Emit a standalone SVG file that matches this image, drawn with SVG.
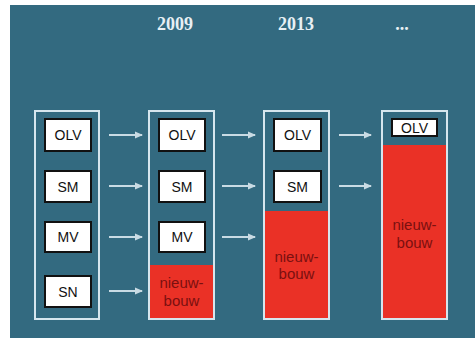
<svg xmlns="http://www.w3.org/2000/svg" width="475" height="341" viewBox="0 0 475 341">
<defs>
<style>
.yr{font-family:"Liberation Serif",serif;font-weight:bold;font-size:18px;fill:#e8f0f4;text-anchor:middle}
.col{fill:none;stroke:#d6e6ee;stroke-width:2}
.box{fill:#ffffff;stroke:#111111;stroke-width:2}
.lbl{font-family:"Liberation Sans",sans-serif;font-size:14px;fill:#111111;text-anchor:middle}
.red{fill:#ea3126}
.nb{font-family:"Liberation Sans",sans-serif;font-size:15px;fill:#7a1010;text-anchor:middle}
.arr{stroke:#c9dbe4;stroke-width:2;fill:none;marker-end:url(#ah)}
</style>
<marker id="ah" markerWidth="8" markerHeight="8" refX="7" refY="4" orient="auto" markerUnits="userSpaceOnUse">
<path d="M0,0.5 L8,4 L0,7.5 Z" fill="#c9dbe4"/>
</marker>
</defs>
<rect x="0" y="0" width="475" height="341" fill="#ffffff"/>
<rect x="10" y="5" width="465" height="333" fill="#336a80"/>
<text class="yr" x="175" y="30">2009</text>
<text class="yr" x="296" y="30">2013</text>
<text class="yr" x="402" y="30">...</text>
<g id="col1">
<rect class="col" x="35" y="111" width="64" height="208"/>
<g id="c1-olv"><rect class="box" x="45" y="119" width="46" height="32"/><text class="lbl" x="68" y="140">OLV</text></g>
<g id="c1-sm"><rect class="box" x="45" y="171" width="46" height="31"/><text class="lbl" x="68" y="191.500">SM</text></g>
<g id="c1-mv"><rect class="box" x="45" y="222" width="46" height="30"/><text class="lbl" x="68" y="242">MV</text></g>
<g id="c1-sn"><rect class="box" x="45" y="276" width="46" height="31"/><text class="lbl" x="68" y="296.500">SN</text></g>
</g>
<g id="col2">
<rect class="red" x="150" y="265" width="64" height="54"/>
<rect class="col" x="149" y="111" width="65" height="208"/>
<g id="c2-olv"><rect class="box" x="159" y="119" width="46" height="32"/><text class="lbl" x="182" y="140">OLV</text></g>
<g id="c2-sm"><rect class="box" x="159" y="171" width="46" height="31"/><text class="lbl" x="182" y="191.500">SM</text></g>
<g id="c2-mv"><rect class="box" x="159" y="222" width="46" height="30"/><text class="lbl" x="182" y="242">MV</text></g>
<g id="c2-nb"><text class="nb" x="181.500" y="288">nieuw-</text><text class="nb" x="181.500" y="306">bouw</text></g>
</g>
<g id="col3">
<rect class="red" x="264" y="211" width="65" height="108"/>
<rect class="col" x="264" y="111" width="65" height="208"/>
<g id="c3-olv"><rect class="box" x="274" y="119" width="47" height="32"/><text class="lbl" x="297.500" y="140">OLV</text></g>
<g id="c3-sm"><rect class="box" x="274" y="171" width="47" height="31"/><text class="lbl" x="297.500" y="191.500">SM</text></g>
<g id="c3-nb"><text class="nb" x="296.500" y="262">nieuw-</text><text class="nb" x="296.500" y="279">bouw</text></g>
</g>
<g id="col4">
<rect class="red" x="382" y="145" width="65" height="174"/>
<rect class="col" x="382" y="111" width="65" height="208"/>
<g id="c4-olv"><rect class="box" x="392" y="119" width="45" height="17"/><text class="lbl" x="414.500" y="132.500">OLV</text></g>
<g id="c4-nb"><text class="nb" x="414.500" y="230">nieuw-</text><text class="nb" x="414.500" y="248">bouw</text></g>
</g>
<g id="connectors">
<line class="arr" x1="109" y1="135" x2="142" y2="135"/>
<line class="arr" x1="109" y1="186" x2="142" y2="186"/>
<line class="arr" x1="109" y1="237" x2="142" y2="237"/>
<line class="arr" x1="109" y1="291" x2="142" y2="291"/>
<line class="arr" x1="222" y1="135" x2="255" y2="135"/>
<line class="arr" x1="222" y1="186" x2="255" y2="186"/>
<line class="arr" x1="222" y1="237" x2="255" y2="237"/>
<line class="arr" x1="339" y1="135" x2="371" y2="135"/>
<line class="arr" x1="339" y1="186" x2="371" y2="186"/>
</g>
</svg>
